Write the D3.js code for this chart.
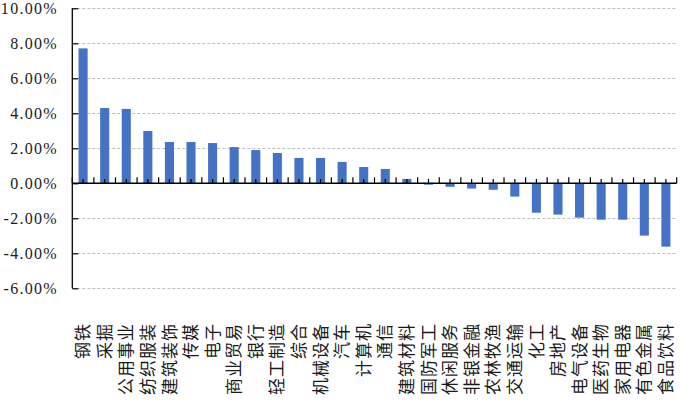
<!DOCTYPE html>
<html>
<head>
<meta charset="utf-8">
<script src="https://cdn.jsdelivr.net/npm/d3@7"></script>
<style>
  html, body { margin: 0; padding: 0; background: #fff; }
  svg { display: block; }
  .ylab { font-family: "Liberation Serif", "DejaVu Serif", serif; font-size: 16px; }
  .xlab { font-family: "Noto Sans CJK SC", sans-serif; font-size: 17px; }
</style>
</head>
<body>
<svg id="chart" width="681" height="402"></svg>
<script>
const categories = ["钢铁","采掘","公用事业","纺织服装","建筑装饰","传媒","电子","商业贸易","银行","轻工制造","综合","机械设备","汽车","计算机","通信","建筑材料","国防军工","休闲服务","非银金融","农林牧渔","交通运输","化工","房地产","电气设备","医药生物","家用电器","有色金属","食品饮料"];
const values = [7.71,4.30,4.25,2.99,2.36,2.36,2.30,2.07,1.90,1.73,1.45,1.45,1.22,0.93,0.82,0.25,-0.08,-0.20,-0.30,-0.37,-0.76,-1.68,-1.79,-1.96,-2.08,-2.08,-2.99,-3.62];
const yTicks = [10,8,6,4,2,0,-2,-4,-6];

(function () {
const svg = d3.select("#chart");
const mLeft = 72.3, mRight = 676.7, mTop = 8.3, mBottom = 288.3;

const x = d3.scaleBand().domain(categories).range([mLeft, mRight]).paddingInner(0).paddingOuter(0);
const y = d3.scaleLinear().domain([-6, 10]).range([mBottom, mTop]);
const bw = x.bandwidth() * 0.42;

// gridlines
svg.append("g").selectAll("line").data(yTicks.filter(d => d !== 0)).join("line")
  .attr("x1", mLeft).attr("x2", mRight)
  .attr("y1", d => Math.round(y(d)) + 0.5).attr("y2", d => Math.round(y(d)) + 0.5)
  .attr("stroke", "#bfbfbf").attr("stroke-width", 1).attr("stroke-dasharray", "3,2");

// bars
svg.append("g").selectAll("rect").data(values).join("rect")
  .attr("x", (d, i) => x(categories[i]) + (x.bandwidth() - bw) / 2)
  .attr("width", bw)
  .attr("y", d => Math.min(y(d), y(0)))
  .attr("height", d => Math.abs(y(d) - y(0)))
  .attr("fill", "#4472C4");

// y axis
const yAxis = d3.axisRight(y).tickValues(yTicks).tickSize(6).tickFormat("");
const gy = svg.append("g").attr("transform", `translate(${mLeft},0)`).call(yAxis);
gy.select(".domain").attr("d", `M0,${mTop}V${mBottom}`).attr("stroke", "#000").attr("stroke-width", 1.3);
gy.selectAll(".tick line").attr("stroke", "#000").attr("stroke-width", 1.2);

// y labels
svg.append("g").selectAll("text").data(yTicks).join("text")
  .attr("class", "ylab")
  .attr("x", 58).attr("y", d => y(d))
  .attr("dy", "0.36em")
  .attr("text-anchor", "end")
  .attr("letter-spacing", "1.3px")
  .attr("fill", "#1a1a1a")
  .text(d => d.toFixed(2) + "%");

// x axis line
const y0 = y(0);
svg.append("line").attr("x1", mLeft).attr("x2", mRight).attr("y1", y0).attr("y2", y0)
  .attr("stroke", "#000").attr("stroke-width", 1.6);

// boundary ticks (tall) and center ticks (short), pointing up
const boundaries = categories.map(c => x(c)).concat([mRight]);
svg.append("g").selectAll("line").data(boundaries).join("line")
  .attr("x1", d => d).attr("x2", d => d)
  .attr("y1", y0).attr("y2", y0 - 6)
  .attr("stroke", "#000").attr("stroke-width", 1.2);
svg.append("g").selectAll("line").data(categories).join("line")
  .attr("x1", d => x(d) + x.bandwidth() / 2).attr("x2", d => x(d) + x.bandwidth() / 2)
  .attr("y1", y0).attr("y2", y0 - 4.3)
  .attr("stroke", "#000").attr("stroke-width", 1.2);

// category labels, rotated
svg.append("g").selectAll("text").data(categories).join("text")
  .attr("class", "xlab")
  .attr("transform", d => `translate(${x(d) + x.bandwidth() / 2},323) rotate(-90)`)
  .attr("dy", "0.36em")
  .attr("text-anchor", "end")
  .attr("letter-spacing", "1px")
  .attr("fill", "#1a1a1a")
  .text(d => d);
})();
</script>
</body>
</html>
